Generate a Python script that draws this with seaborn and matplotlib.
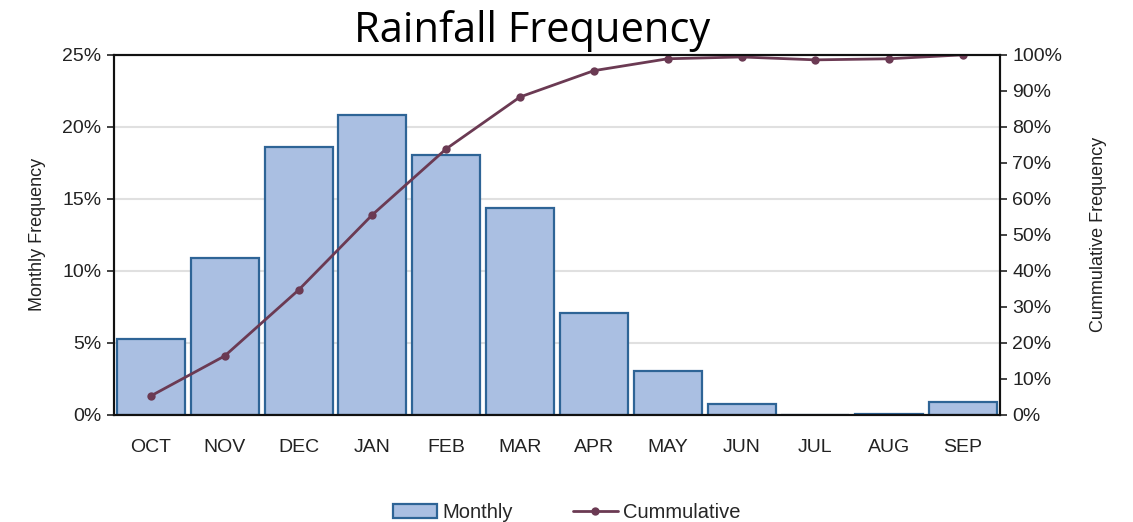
import matplotlib
matplotlib.use('Agg')
import matplotlib.pyplot as plt
import matplotlib.ticker as mtick
import seaborn as sns
import pandas as pd

months = ['OCT', 'NOV', 'DEC', 'JAN', 'FEB', 'MAR', 'APR', 'MAY', 'JUN', 'JUL', 'AUG', 'SEP']
monthly = [5.3, 10.9, 18.6, 20.8, 18.05, 14.4, 7.1, 3.05, 0.76, 0.0, 0.07, 0.9]
cumulative = [5.3, 16.4, 34.7, 55.6, 73.9, 88.3, 95.6, 98.9, 99.4, 98.6, 98.9, 100.0]

df = pd.DataFrame({'Month': months, 'Monthly': monthly, 'Cumulative': cumulative})

sns.set_style('white')
plt.rcParams['font.family'] = ['Liberation Sans', 'DejaVu Sans']

fig = plt.figure(figsize=(11.33, 5.22), dpi=100)
ax = fig.add_axes([0.1006, 0.205, 0.782, 0.69])

# barras mensais
sns.barplot(data=df, x='Month', y='Monthly', color='#AABFE2', saturation=1,
            edgecolor='#2E6496', linewidth=1.6, width=0.92, ax=ax, label='Monthly')
ax.set_ylim(0, 25)
ax.set_xlim(-0.5, 11.5)
ax.yaxis.set_major_locator(mtick.MultipleLocator(5))
ax.yaxis.set_major_formatter(mtick.PercentFormatter(decimals=0))
ax.grid(axis='y', color='#E0E0E0', linewidth=1.5)
ax.set_axisbelow(True)
ax.set_xlabel('')
ax.set_ylabel('Monthly Frequency', fontsize=13, color='#222222', labelpad=12)
ax.tick_params(axis='y', left=True, length=5, width=1.2, labelsize=14, colors='#222222', pad=4)
ax.tick_params(axis='x', bottom=False, labelsize=14, colors='#222222', pad=14)
for s in ax.spines.values():
    s.set_color('#111111')
    s.set_linewidth(1.5)
if ax.get_legend() is not None:
    ax.get_legend().remove()

# linha acumulada
ax2 = ax.twinx()
sns.lineplot(data=df, x='Month', y='Cumulative', sort=False, color='#6B3A53',
             linewidth=2, marker='o', markersize=6, markeredgewidth=0, ax=ax2, label='Cummulative')
ax2.set_ylim(0, 100)
ax2.yaxis.set_major_locator(mtick.MultipleLocator(10))
ax2.yaxis.set_major_formatter(mtick.PercentFormatter(decimals=0))
ax2.set_ylabel('Cummulative Frequency', fontsize=13, color='#222222', labelpad=20)
ax2.tick_params(axis='y', right=True, length=5, width=1.2, labelsize=14, colors='#222222', pad=4)
for s in ax2.spines.values():
    s.set_color('#111111')
    s.set_linewidth(1.5)
ax2.get_legend().remove()

h1, l1 = ax.get_legend_handles_labels()
h2, l2 = ax2.get_legend_handles_labels()
fig.legend(h1 + h2, l1 + l2, loc='lower center', bbox_to_anchor=(0.5, -0.035), ncol=2,
           frameon=False, fontsize=14.5, columnspacing=3, handlelength=2.2, handletextpad=0.25)

fig.text(0.47, 0.94, 'Rainfall Frequency', ha='center', va='center', fontsize=30,
         color='black', family=['Open Sans', 'DejaVu Sans'])

fig.savefig('out.png', dpi=100)
